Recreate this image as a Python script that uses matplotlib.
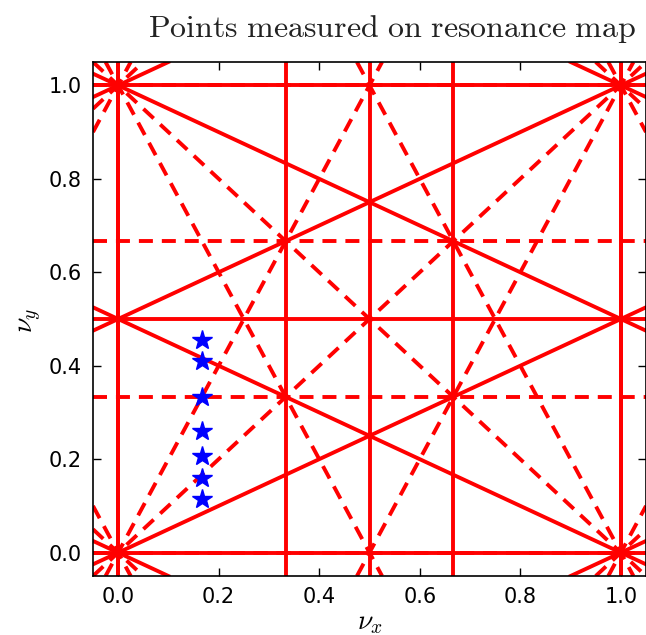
import matplotlib
matplotlib.use("Agg")
import matplotlib.pyplot as plt
import numpy as np

# Resonance lines m*nu_x + n*nu_y = p, |m|+|n| <= 3
m_coef = [1, 0, 2, 0, 1, 1, 3, 0, 1, 1, 2, 2]
n_coef = [0, 1, 0, 2, 1, -1, 0, 3, 2, -2, 1, -1]
p_values = list(range(-4, 5))

# Measured points
nu_x_points = [1/6, 1/6, 1/6, 1/6, 1/6, 1/6, 1/6]
nu_y_points = [0.455, 0.41, 0.334, 0.26, 0.207, 0.16, 0.115]

x_ticks = [0.0, 0.2, 0.4, 0.6, 0.8, 1.0]
y_ticks = [0.0, 0.2, 0.4, 0.6, 0.8, 1.0]

plt.rcParams['mathtext.fontset'] = 'cm'

W, H = 646, 635
fig = plt.figure(figsize=(W/100, H/100), dpi=100)
ax = fig.add_axes([93/W, (H-576)/H, 553/W, 514/H])

ax.set_xlim(-0.05, 1.05)
ax.set_ylim(-0.05, 1.05)

for m, n in zip(m_coef, n_coef):
    style = '-' if n % 2 == 0 else '--'
    for p in p_values:
        if n == 0:
            p1, p2 = (p/m, 0), (p/m, 1)
        elif m == 0:
            p1, p2 = (0, p/n), (1, p/n)
        else:
            p1, p2 = (0, p/n), (1, (p - m)/n)
        ln = ax.axline(p1, p2, color='red', lw=2.8, ls=style, zorder=2)
        if style == '--':
            ln.set_dashes((3.6, 2.3))

ax.plot(nu_x_points, nu_y_points, ls='none', marker='*', color='blue',
        markersize=15, markeredgecolor='blue', zorder=5)

ax.set_xticks(x_ticks)
ax.set_yticks(y_ticks)
ax.set_xticklabels([f"{v:.1f}" for v in x_ticks])
ax.set_yticklabels([f"{v:.1f}" for v in y_ticks])
ax.tick_params(direction='in', top=True, right=True, length=6, width=1,
               labelsize=15, pad=8, colors='black')
for s in ax.spines.values():
    s.set_linewidth(1.2)

fig.text(370/W, 1 - 622/H, r'$\nu_x$', ha='center', va='center', fontsize=20)
fig.text(30/W, 1 - 320/H, r'$\nu_y$', ha='center', va='center', fontsize=20,
         rotation=90)
fig.text(392/W, 1 - 37/H, r'$\mathrm{Points\ measured\ on\ resonance\ map}$',
         ha='center', va='baseline', fontsize=23, color='#222222')

fig.savefig('out.png', dpi=100)
